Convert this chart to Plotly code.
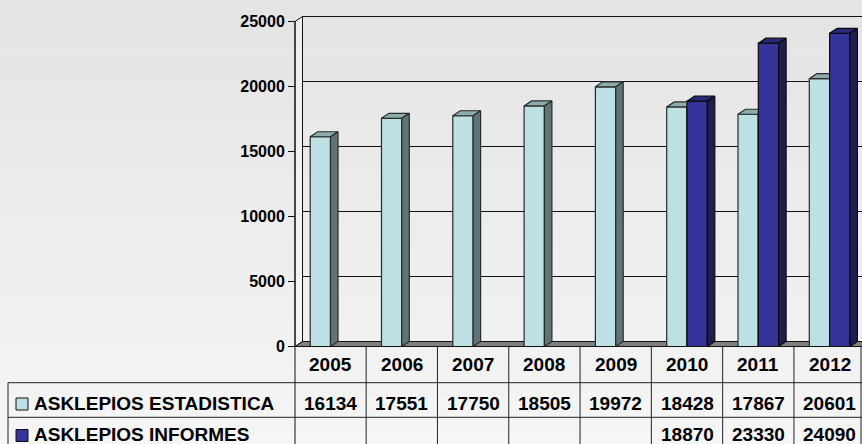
import plotly.graph_objects as go

# ---------------- data ----------------
years = ["2005", "2006", "2007", "2008", "2009", "2010", "2011", "2012"]
series_names = ["ASKLEPIOS ESTADISTICA", "ASKLEPIOS INFORMES"]
estadistica = [16134, 17551, 17750, 18505, 19972, 18428, 17867, 20601]
informes = [None, None, None, None, None, 18870, 23330, 24090]
y_ticks = [0, 5000, 10000, 15000, 20000, 25000]
y_tick_labels = ["0", "5000", "10000", "15000", "20000", "25000"]

# ---------------- geometry helpers (pixel layout of the 862x444 canvas) ----------------
W, H = 862, 444
CAT_PX = 71.3          # pixels per category
CAT0_PX = 330.5        # pixel centre of first category
ZERO_PY = 346.5        # pixel row of value 0 (front)
PX_PER_UNIT = 65 / 5000


def xd(px):
    return (px - CAT0_PX) / CAT_PX


def yd(py):
    return (ZERO_PY - py) / PX_PER_UNIT


def xp(px):
    return px / W


def yp(py):
    return 1 - py / H


DX = 7.5 / CAT_PX      # depth offset (x units)
DY = 5 / PX_PER_UNIT   # depth offset (y units)
BW = 20.3 / CAT_PX     # bar width
XA = xd(295)           # front axis x
XR = xd(W + 20)        # beyond right edge
YTOP = y_ticks[-1]

FONT = "Arial, 'Liberation Sans', sans-serif"

fig = go.Figure()


def polys(values, offset):
    fx, fy, tx, ty, sx, sy = [], [], [], [], [], []
    for i, v in enumerate(values):
        if v is None:
            continue
        a = i + offset
        b = a + BW
        fx += [a, b, b, a, a, None]
        fy += [0, 0, v, v, 0, None]
        tx += [a, b, b + DX, a + DX, a, None]
        ty += [v, v, v + DY, v + DY, v, None]
        sx += [b, b + DX, b + DX, b, b, None]
        sy += [0, DY, v + DY, v, 0, None]
    return (fx, fy), (tx, ty), (sx, sy)


styles = [
    (estadistica, -BW, ("#BCE0E3", "#8DACAE", "#5F7476"), "#2a2a2a", series_names[0]),
    (informes, 0.0, ("#333399", "#28287A", "#1E1E50"), "#0a0a0a", series_names[1]),
]
for vals, off, (cf, ct, cs), edge, name in styles:
    front, top, side = polys(vals, off)
    for (px_, py_), col in ((front, cf), (top, ct), (side, cs)):
        fig.add_trace(go.Scatter(
            x=px_, y=py_, mode="lines", fill="toself", fillcolor=col,
            line=dict(color=edge, width=1.2), hoverinfo="skip",
            showlegend=False, name=name))

shapes = []
# background gradient
N = 44
for k in range(N):
    t = k / (N - 1)
    c = int(228 + (246 - 228) * t)
    shapes.append(dict(type="rect", xref="paper", yref="paper", x0=0, x1=1,
                       y0=1 - (k + 1) / N, y1=1 - k / N, layer="below",
                       line=dict(width=0), fillcolor=f"rgb({c},{c},{c})"))
# left wall
shapes.append(dict(type="path", xref="x", yref="y", layer="below",
                   path=f"M {XA},0 L {XA},{YTOP} L {XA+DX},{YTOP+DY} L {XA+DX},{DY} Z",
                   fillcolor="rgba(255,255,255,0.35)", line=dict(color="#111", width=1)))
# floor
shapes.append(dict(type="path", xref="x", yref="y", layer="below",
                   path=f"M {XA},0 L {XR},0 L {XR},{DY} L {XA+DX},{DY} Z",
                   fillcolor="#808080", line=dict(color="#111", width=1)))
# back-wall gridlines
for v in y_ticks[1:]:
    shapes.append(dict(type="line", xref="x", yref="y", layer="below",
                       x0=XA + DX, x1=XR, y0=v + DY, y1=v + DY,
                       line=dict(color="#111", width=1)))
# front axis line (continues down into the table)
shapes.append(dict(type="line", xref="x", yref="y", x0=XA, x1=XA,
                   y0=yd(H + 10), y1=YTOP, line=dict(color="#111", width=1)))
shapes.append(dict(type="line", xref="x", yref="y", x0=XA, x1=XR,
                   y0=0, y1=0, line=dict(color="#111", width=1)))

# ---------------- data table ----------------
ROW_TOP = [ZERO_PY, 382.7, 417.3, 452.0]
for i in range(1, len(years)):
    shapes.append(dict(type="line", xref="x", yref="paper", x0=i - 0.5, x1=i - 0.5,
                       y0=yp(ROW_TOP[0]), y1=yp(H + 10), line=dict(color="#222", width=1)))
shapes.append(dict(type="line", xref="paper", yref="paper", x0=xp(861), x1=xp(861),
                   y0=yp(ROW_TOP[0]), y1=yp(H + 10), line=dict(color="#222", width=1)))
for r in (1, 2):
    shapes.append(dict(type="line", xref="paper", yref="paper", x0=xp(8), x1=1,
                       y0=yp(ROW_TOP[r]), y1=yp(ROW_TOP[r]), line=dict(color="#222", width=1)))
shapes.append(dict(type="line", xref="paper", yref="paper", x0=xp(8), x1=xp(8),
                   y0=yp(ROW_TOP[1]), y1=yp(H + 10), line=dict(color="#222", width=1)))
# legend keys
key_cols = ["#BCE0E3", "#333399"]
for r, col in enumerate(key_cols):
    cy = [404.0, 435.5][r]
    shapes.append(dict(type="rect", xref="paper", yref="paper",
                       x0=xp(16), x1=xp(28), y0=yp(cy + 6), y1=yp(cy - 6),
                       fillcolor=col, line=dict(color="#111", width=1)))

annotations = []
tf = dict(family=FONT, size=19, color="black", weight="bold")
for i, yr in enumerate(years):
    annotations.append(dict(x=i, y=yp(364.5), xref="x", yref="paper", text=yr,
                            showarrow=False, font=tf, xanchor="center", yanchor="middle"))
row_y = [403.5, 434.0]
for r, vals in enumerate([estadistica, informes]):
    annotations.append(dict(x=xp(32), y=yp(row_y[r]), xref="paper", yref="paper",
                            text=series_names[r], showarrow=False, font=tf,
                            xanchor="left", yanchor="middle"))
    for i, v in enumerate(vals):
        if v is None:
            continue
        annotations.append(dict(x=i, y=yp(row_y[r]), xref="x", yref="paper", text=str(v),
                                showarrow=False, font=tf, xanchor="center", yanchor="middle"))

fig.update_layout(
    width=W, height=H, margin=dict(l=0, r=0, t=0, b=0),
    paper_bgcolor="#eeeeee", plot_bgcolor="rgba(0,0,0,0)",
    showlegend=False, shapes=shapes, annotations=annotations,
    xaxis=dict(range=[xd(0), xd(W)], visible=False, domain=[0, 1]),
    yaxis=dict(range=[yd(H), yd(0)], anchor="free", position=295 / W,
               tickmode="array", tickvals=y_ticks, ticktext=y_tick_labels,
               ticks="outside", ticklen=7, tickcolor="#111",
               showgrid=False, zeroline=False, showline=False,
               tickfont=dict(family=FONT, size=16, color="black", weight="bold")),
)

fig.write_html("out.html")
